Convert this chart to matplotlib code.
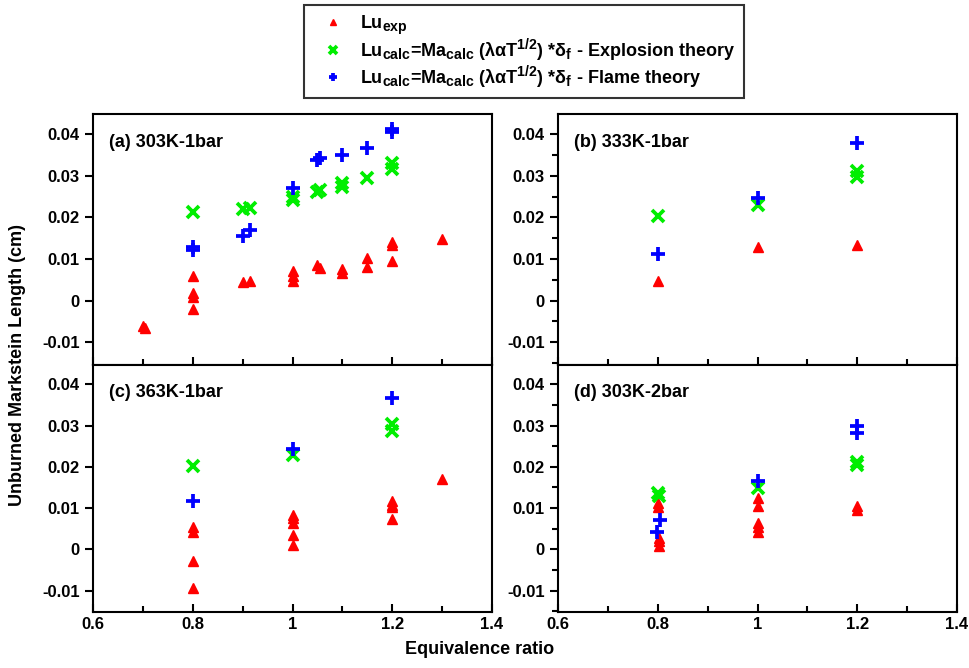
import numpy as np
import matplotlib
matplotlib.use("Agg")
import matplotlib.pyplot as plt
import matplotlib._mathtext as mathtext_internal
from matplotlib.ticker import MultipleLocator, FuncFormatter

plt.rcParams['font.family'] = ['Liberation Sans', 'DejaVu Sans']
plt.rcParams['font.weight'] = 'bold'
plt.rcParams['mathtext.fontset'] = 'custom'
plt.rcParams['mathtext.rm'] = 'Liberation Sans:bold'
plt.rcParams['mathtext.it'] = 'Liberation Sans:bold'
plt.rcParams['mathtext.bf'] = 'Liberation Sans:bold'
# subscripts in the original are a bit larger than mathtext's default
mathtext_internal.SHRINK_FACTOR = 0.78

# (a) 303K-1bar
a_exp_phi = [0.70, 0.705, 0.8, 0.8, 0.8, 0.8, 0.9, 0.915, 1.0, 1.0, 1.0, 1.05, 1.055,
             1.1, 1.1, 1.15, 1.15, 1.2, 1.2, 1.2, 1.3]
a_exp_lu = [-0.0060, -0.0065, 0.0058, 0.0018, 0.0008, -0.0021, 0.0044, 0.0046, 0.0070, 0.0058,
            0.0048, 0.0086, 0.0078, 0.0075, 0.0066, 0.0102, 0.0082, 0.0142, 0.0134, 0.0096, 0.0148]
a_exl_phi = [0.8, 0.9, 0.915, 1.0, 1.0, 1.05, 1.055, 1.1, 1.1, 1.15, 1.2, 1.2]
a_exl_lu = [0.0212, 0.0220, 0.0224, 0.0242, 0.0249, 0.0262, 0.0266, 0.0273, 0.0282, 0.0294, 0.0316, 0.0330]
a_flm_phi = [0.8, 0.8, 0.9, 0.915, 1.0, 1.05, 1.055, 1.1, 1.15, 1.2, 1.2]
a_flm_lu = [0.0122, 0.0128, 0.0156, 0.0170, 0.0270, 0.0338, 0.0344, 0.0350, 0.0368, 0.0406, 0.0414]

# (b) 333K-1bar
b_exp_phi = [0.8, 1.0, 1.2]
b_exp_lu = [0.0048, 0.0130, 0.0134]
b_exl_phi = [0.8, 1.0, 1.2, 1.2]
b_exl_lu = [0.0204, 0.0230, 0.0312, 0.0298]
b_flm_phi = [0.8, 1.0, 1.2]
b_flm_lu = [0.0112, 0.0248, 0.0380]

# (c) 363K-1bar
c_exp_phi = [0.8, 0.8, 0.8, 0.8, 1.0, 1.0, 1.0, 1.0, 1.0, 1.2, 1.2, 1.2, 1.2, 1.3]
c_exp_lu = [0.0055, 0.0041, -0.0029, -0.0093, 0.0084, 0.0076, 0.0065, 0.0035, 0.0010,
            0.0117, 0.0108, 0.0102, 0.0074, 0.0170]
c_exl_phi = [0.8, 1.0, 1.2, 1.2]
c_exl_lu = [0.0202, 0.0228, 0.0303, 0.0288]
c_flm_phi = [0.8, 1.0, 1.2]
c_flm_lu = [0.0117, 0.0243, 0.0366]

# (d) 303K-2bar
d_exp_phi = [0.8, 0.8, 0.803, 0.803, 0.803, 1.0, 1.0, 1.0, 1.0, 1.0, 1.2, 1.2]
d_exp_lu = [0.0112, 0.0102, 0.0027, 0.0019, 0.0009, 0.0124, 0.0105, 0.0065, 0.0055, 0.0043,
            0.0104, 0.0096]
d_exl_phi = [0.8, 0.803, 1.0, 1.2, 1.2]
d_exl_lu = [0.0136, 0.0129, 0.0148, 0.0212, 0.0204]
d_flm_phi = [0.804, 0.798, 1.0, 1.2, 1.2]
d_flm_lu = [0.0070, 0.0043, 0.0166, 0.0298, 0.0282]

titles = ['(a) 303K-1bar', '(b) 333K-1bar', '(c) 363K-1bar', '(d) 303K-2bar']
panels = [
    (a_exp_phi, a_exp_lu, a_exl_phi, a_exl_lu, a_flm_phi, a_flm_lu),
    (b_exp_phi, b_exp_lu, b_exl_phi, b_exl_lu, b_flm_phi, b_flm_lu),
    (c_exp_phi, c_exp_lu, c_exl_phi, c_exl_lu, c_flm_phi, c_flm_lu),
    (d_exp_phi, d_exp_lu, d_exl_phi, d_exl_lu, d_flm_phi, d_flm_lu),
]

W, H = 969, 668
fig = plt.figure(figsize=(W / 100, H / 100), dpi=100)

# axes boxes in pixels: left, top, right, bottom
boxes = [(93, 114, 492, 365), (558, 114, 957, 365), (93, 365, 492, 612), (558, 365, 957, 612)]
ylims = [(-0.0155, 0.0449), (-0.0155, 0.0449), (-0.0152, 0.0447), (-0.0152, 0.0447)]

red, green, blue = '#ff0000', '#00ee00', '#0000ff'
fmt = FuncFormatter(lambda v, p: '%g' % round(v, 3))

handles = None
for i, (box, data) in enumerate(zip(boxes, panels)):
    l, t, r, b = box
    ax = fig.add_axes([l / W, 1 - b / H, (r - l) / W, (b - t) / H])
    ep, el, xp, xl, fp, fl = data
    h1, = ax.plot(ep, el, ls='none', marker='^', ms=7.5, color=red, mec=red)
    h2, = ax.plot(xp, xl, ls='none', marker='x', ms=8.5, mew=2.7, color=green)
    h3, = ax.plot(fp, fl, ls='none', marker='+', ms=10, mew=2.7, color=blue)
    handles = (h1, h2, h3)
    ax.set_xlim(0.6, 1.4)
    ax.set_ylim(*ylims[i])
    ax.xaxis.set_major_locator(MultipleLocator(0.2))
    ax.xaxis.set_minor_locator(MultipleLocator(0.1))
    ax.yaxis.set_major_locator(MultipleLocator(0.01))
    if i % 2 == 1:
        ax.yaxis.set_minor_locator(MultipleLocator(0.005))
    ax.xaxis.set_major_formatter(fmt)
    ax.yaxis.set_major_formatter(fmt)
    ax.tick_params(axis='x', which='major', direction='in', length=6, width=1.5)
    ax.tick_params(axis='x', which='minor', direction='in', length=4, width=1.5)
    ax.tick_params(axis='y', which='major', direction='out', length=6, width=1.5)
    ax.tick_params(axis='y', which='minor', direction='out', length=4, width=1.5)
    ax.tick_params(labelsize=12)
    if i < 2:
        ax.tick_params(axis='x', labelbottom=False)
    for s in ax.spines.values():
        s.set_linewidth(1.5)
    ax.text(0.04, 0.888, titles[i], transform=ax.transAxes, fontsize=13,
            fontweight='bold', va='center', ha='left')

fig.text(480 / W, 1 - 650 / H, 'Equivalence ratio', ha='center', va='center',
         fontsize=13, fontweight='bold')
fig.text(18 / W, 1 - 365 / H, 'Unburned Markstein Length (cm)', ha='center', va='center',
         rotation=90, fontsize=13, fontweight='bold')

labels = [r'Lu$_{\mathrm{exp}}$',
          r'Lu$_{\mathrm{calc}}$=Ma$_{\mathrm{calc}}$ (λαT$^{\mathrm{1/2}}$) *δ$_{\mathrm{f}}$ - Explosion theory',
          r'Lu$_{\mathrm{calc}}$=Ma$_{\mathrm{calc}}$ (λαT$^{\mathrm{1/2}}$) *δ$_{\mathrm{f}}$ - Flame theory']
leg = fig.legend(handles, labels, loc='upper center', bbox_to_anchor=(524 / W, 1 - 5 / H),
                 borderaxespad=0, fontsize=13, frameon=True, fancybox=False, edgecolor='black',
                 markerscale=0.6, handlelength=2.3, borderpad=0.45, labelspacing=0.0,
                 handletextpad=0.35)
leg.get_frame().set_linewidth(1.5)

fig.savefig('out.png', dpi=100)
